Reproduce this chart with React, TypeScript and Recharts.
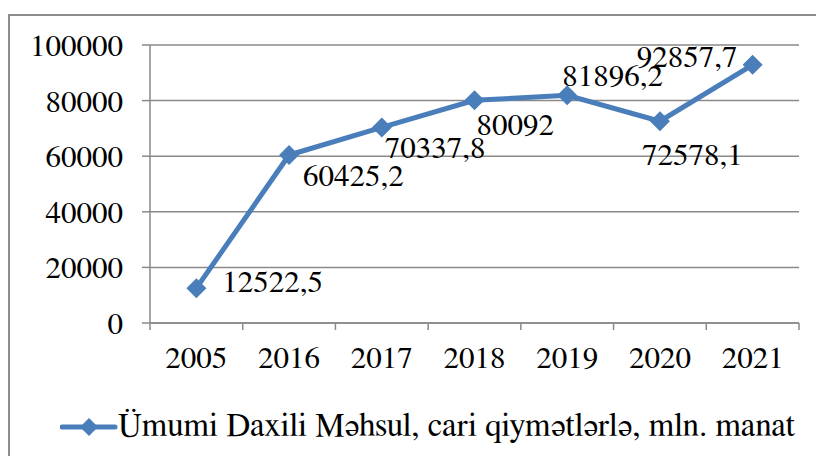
import { LineChart, Line, XAxis, YAxis, CartesianGrid, Legend, LabelList } from 'recharts';

// Ümumi Daxili Məhsul, cari qiymətlərlə, mln. manat
const years = ['2005', '2016', '2017', '2018', '2019', '2020', '2021'];
const gdp = [12522.5, 60425.2, 70337.8, 80092, 81896.2, 72578.1, 92857.7];
const yTicks = [0, 20000, 40000, 60000, 80000, 100000];
const seriesName = 'Ümumi Daxili Məhsul, cari qiymətlərlə, mln. manat';

const data = years.map((year, i) => ({ year, value: gdp[i] }));

const FONT = 'FreeSerif, "Noto Serif", serif';
const FS = 31;
const BLUE = '#4a7ebb';
const GRID = '#8a8a8a';
const PLOT_LEFT = 150;
const PLOT_RIGHT = 799;
const BAND = (PLOT_RIGHT - PLOT_LEFT) / years.length;

// where each value label sits relative to its point (Excel moved them by hand)
const labelShift = [
  { dx: 26, dy: -7 },
  { dx: 14, dy: 20 },
  { dx: 3, dy: 20 },
  { dx: 2, dy: 24 },
  { dx: -5, dy: -20 },
  { dx: -18, dy: 33 },
  { dx: -116, dy: -8 },
];

const fmt = (v: number) => String(v).replace('.', ',');

const Diamond = (props: any) => {
  const { cx, cy } = props;
  const r = 10;
  return (
    <path
      d={`M${cx},${cy - r}L${cx + r},${cy}L${cx},${cy + r}L${cx - r},${cy}Z`}
      fill={BLUE}
    />
  );
};

const ValueLabel = (props: any) => {
  const { x, y, value, index } = props;
  const s = labelShift[index] || { dx: 0, dy: 0 };
  return (
    <text x={x + s.dx} y={y + s.dy} dy="0.34em" fontSize={FS} style={{ fontFamily: FONT }} fill="#000" textAnchor="start">
      {fmt(value)}
    </text>
  );
};

// tick marks between categories, like Excel
const YearTick = (props: any) => {
  const { x, y, payload, index } = props;
  const axisY = y - 23;
  return (
    <g>
      <line x1={x - BAND / 2} x2={x - BAND / 2} y1={axisY} y2={axisY + 7} stroke={GRID} strokeWidth={1.5} />
      {index === years.length - 1 && (
        <line x1={x + BAND / 2} x2={x + BAND / 2} y1={axisY} y2={axisY + 7} stroke={GRID} strokeWidth={1.5} />
      )}
      <text x={x} y={y} dy="0.71em" textAnchor="middle" fontSize={FS} style={{ fontFamily: FONT }} fill="#000">
        {payload.value}
      </text>
    </g>
  );
};

const LegendBox = () => (
  <div style={{ display: 'flex', alignItems: 'center', fontFamily: FONT, fontSize: 33, color: '#000', whiteSpace: 'nowrap' }}>
    <svg width={58} height={24} style={{ marginRight: 0 }}>
      <line x1={2} x2={55} y1={12} y2={12} stroke={BLUE} strokeWidth={5} strokeLinecap="round" />
      <path d="M29,3L38,12L29,21L20,12Z" fill={BLUE} />
    </svg>
    <span>{seriesName}</span>
  </div>
);

export default function App() {
  return (
    <div style={{ position: 'absolute', left: 0, top: 0, width: 816, height: 456, overflow: 'hidden', background: '#fff' }}>
      <div style={{ position: 'absolute', left: 8, top: 14, width: 900, height: 500, border: '2px solid #8c8c8c' }} />
      <LineChart
        width={816}
        height={456}
        data={data}
        margin={{ top: 45, right: 816 - PLOT_RIGHT, left: 0, bottom: 73 }}
        style={{ position: 'absolute', left: 0, top: 0 }}
      >
        <CartesianGrid vertical={false} stroke={GRID} strokeWidth={1.5} />
        <XAxis
          dataKey="year"
          scale="band"
          height={60}
          axisLine={{ stroke: GRID, strokeWidth: 1.5 }}
          tickLine={false}
          tickSize={7}
          tickMargin={16}
          tick={<YearTick />}
          interval={0}
        />
        <YAxis
          width={PLOT_LEFT}
          domain={[0, 100000]}
          ticks={yTicks}
          interval={0}
          axisLine={{ stroke: GRID, strokeWidth: 1.5 }}
          tickLine={{ stroke: GRID, strokeWidth: 1.5 }}
          tickSize={8}
          tickMargin={19}
          tick={{ fontSize: FS, style: { fontFamily: FONT }, fill: '#000' }}
        />
        <Legend
          verticalAlign="middle"
          align="center"
          layout="horizontal"
          wrapperStyle={{ top: 409, left: 60, width: 760, height: 38 }}
          content={<LegendBox />}
        />
        <Line
          type="linear"
          dataKey="value"
          name={seriesName}
          stroke={BLUE}
          strokeWidth={5}
          dot={<Diamond />}
          activeDot={false}
          isAnimationActive={false}
        >
          <LabelList dataKey="value" content={<ValueLabel />} />
        </Line>
      </LineChart>
    </div>
  );
}
